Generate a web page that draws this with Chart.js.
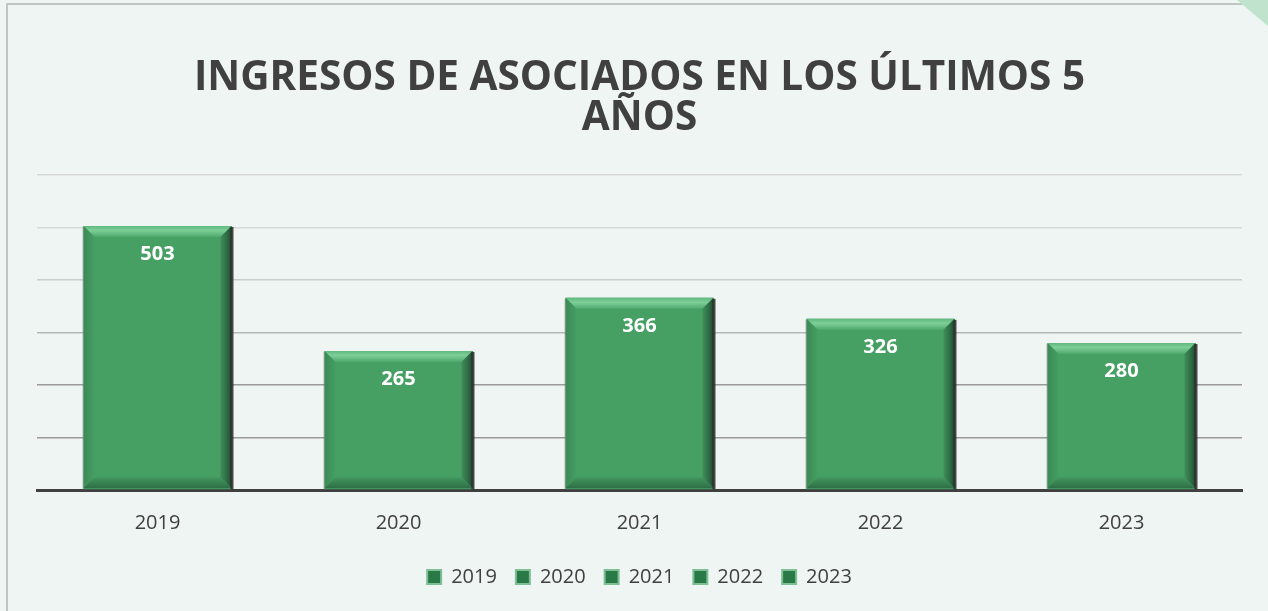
<!DOCTYPE html>
<html><head><meta charset="utf-8">
<script src="https://cdn.jsdelivr.net/npm/chart.js@4.4.1/dist/chart.umd.min.js"></script>
<style>html,body{margin:0;padding:0;background:#EFF5F3;}#wrap{width:1268px;height:611px;position:relative;}</style>
</head><body><div id="wrap"><canvas id="c" width="1268" height="611"></canvas></div>
<script>
const titleLines = ['INGRESOS DE ASOCIADOS EN LOS ÚLTIMOS 5', 'AÑOS'];
const categories = ['2019', '2020', '2021', '2022', '2023'];
const ingresos = [503, 265, 366, 326, 280];
const yMax = 600;
const yStep = 100;

const bgPlugin = {
  id: 'bg',
  beforeDraw(chart) {
    const ctx = chart.ctx;
    ctx.save();
    ctx.fillStyle = '#EFF5F3';
    ctx.fillRect(0, 0, chart.width, chart.height);
    ctx.strokeStyle = '#c0c4c2';
    ctx.lineWidth = 2;
    ctx.beginPath();
    ctx.moveTo(7, 611); ctx.lineTo(7, 4); ctx.lineTo(1268, 4);
    ctx.stroke();
    ctx.fillStyle = '#bfe3cc';
    ctx.beginPath();
    ctx.moveTo(1237, 0); ctx.lineTo(1268, 0); ctx.lineTo(1268, 26); ctx.closePath();
    ctx.fill();
    ctx.restore();
  }
};

const bevelPlugin = {
  id: 'bevel',
  afterDatasetsDraw(chart) {
    const ctx = chart.ctx;
    const meta = chart.getDatasetMeta(0);
    ctx.save();
    meta.data.forEach((el, i) => {
      const p = el.getProps(['x', 'y', 'base', 'width'], true);
      const L = p.x - p.width / 2, R = p.x + p.width / 2, T = p.y, B = p.base - 1;
      const b = 11;
      const poly = (pts, col) => { ctx.fillStyle = col; ctx.beginPath(); ctx.moveTo(pts[0][0], pts[0][1]); for (let k = 1; k < pts.length; k++) ctx.lineTo(pts[k][0], pts[k][1]); ctx.closePath(); ctx.fill(); };
      let g = ctx.createLinearGradient(0, T, 0, T + b);
      g.addColorStop(0, '#5fb87d'); g.addColorStop(0.4, '#7dcf98'); g.addColorStop(1, '#4fa96d');
      poly([[L, T], [R, T], [R - b, T + b], [L + b, T + b]], g);
      g = ctx.createLinearGradient(L, 0, L + b, 0);
      g.addColorStop(0, '#3a8a55'); g.addColorStop(1, '#459e63');
      poly([[L, T], [L + b, T + b], [L + b, B - b], [L, B]], g);
      g = ctx.createLinearGradient(R - b, 0, R, 0);
      g.addColorStop(0, '#3f8f5a'); g.addColorStop(0.6, '#2f6b44'); g.addColorStop(1, '#1f4a2f');
      poly([[R, T], [R, B], [R - b, B - b], [R - b, T + b]], g);
      g = ctx.createLinearGradient(0, B - b, 0, B);
      g.addColorStop(0, '#42975e'); g.addColorStop(1, '#2f6e46');
      poly([[L, B], [L + b, B - b], [R - b, B - b], [R, B]], g);
      ctx.fillStyle = 'rgba(40,40,40,0.85)';
      ctx.fillRect(R - 1, T + 1, 3, B - T);
      ctx.fillStyle = 'rgba(120,120,120,0.5)';
      ctx.fillRect(L - 1, T + 1, 1, B - T);
      ctx.fillStyle = '#ffffff';
      ctx.font = 'bold 20px "Open Sans", "Liberation Sans", sans-serif';
      ctx.textAlign = 'center';
      ctx.textBaseline = 'middle';
      ctx.fillText(String(ingresos[i]), p.x, T + 28);
    });
    ctx.restore();
  }
};

function gridColor(v) {
  if (v === 0) return 'rgba(0,0,0,0)';
  if (v <= 200) return '#9a9a9a';
  if (v <= 300) return '#b5b8b7';
  if (v <= 400) return '#c9cccb';
  return '#d6d9d8';
}

new Chart(document.getElementById('c'), {
  type: 'bar',
  data: {
    labels: categories,
    datasets: [{
      label: 'Ingresos',
      data: ingresos,
      backgroundColor: '#46A064',
      borderWidth: 0,
      categoryPercentage: 1,
      barPercentage: 0.614
    }]
  },
  options: {
    responsive: false,
    animation: false,
    layout: { padding: { left: 37, right: 26, top: 22, bottom: 14 } },
    plugins: {
      title: {
        display: true,
        text: titleLines,
        color: '#404040',
        font: { family: '"Open Sans", "Liberation Sans", sans-serif', size: 40.5, weight: 'bold', lineHeight: 1.0 },
        padding: { top: 36, bottom: 36 }
      },
      legend: {
        position: 'bottom',
        labels: {
          color: '#404040',
          font: { family: '"Open Sans", "Liberation Sans", sans-serif', size: 20 },
          boxWidth: 14, boxHeight: 14, padding: 19,
          generateLabels() {
            return categories.map((c, i) => ({ text: c, fillStyle: '#2a7a48', strokeStyle: '#7fbf95', lineWidth: 2, fontColor: '#404040', index: i, datasetIndex: 0 }));
          }
        },
        onClick() {}
      },
      tooltip: { enabled: false }
    },
    scales: {
      x: {
        grid: { display: false },
        border: { display: true, color: '#404040', width: 3 },
        ticks: { color: '#404040', font: { family: '"Open Sans", "Liberation Sans", sans-serif', size: 20 }, padding: 13 }
      },
      y: {
        min: 0, max: yMax,
        ticks: { display: false, stepSize: yStep },
        border: { display: false },
        grid: { drawTicks: false, tickLength: 0, lineWidth: 1.5, color: (ctx) => gridColor(ctx.tick ? ctx.tick.value : 0) }
      }
    }
  },
  plugins: [bgPlugin, bevelPlugin]
});
</script></body></html>
